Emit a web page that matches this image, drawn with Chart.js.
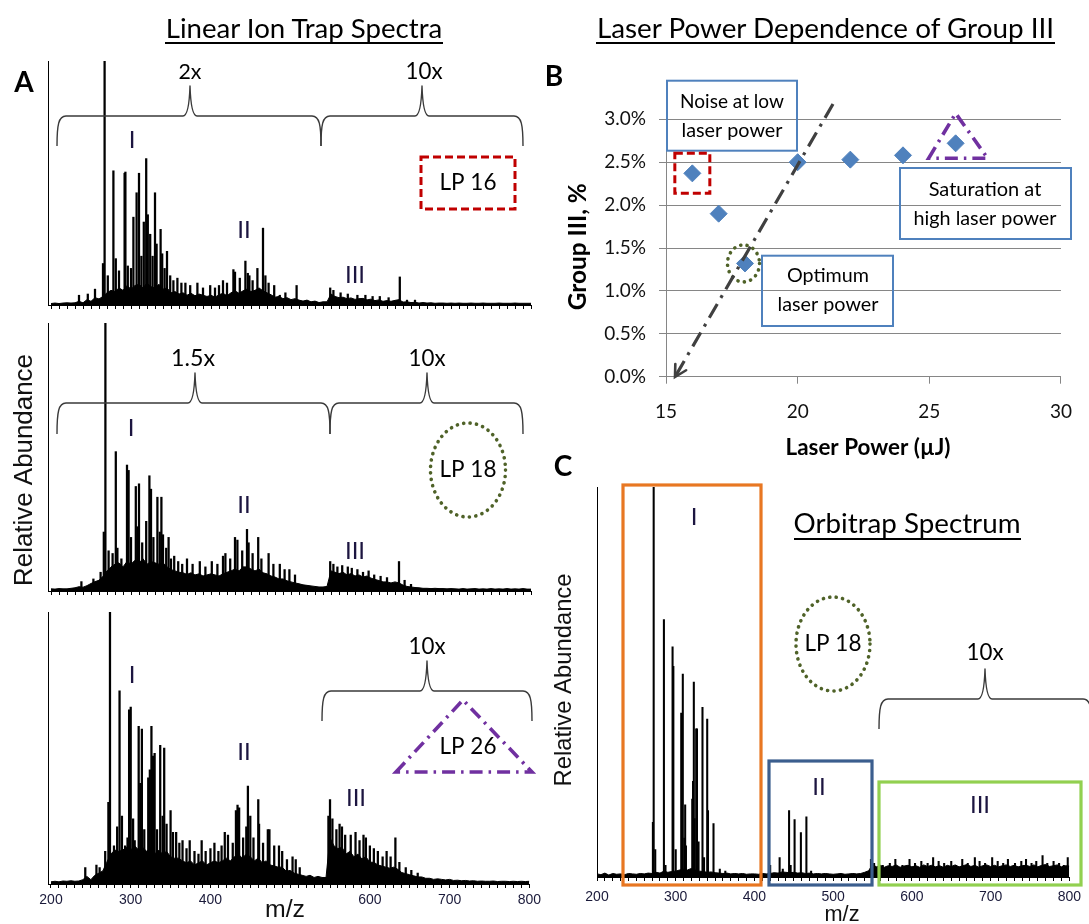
<!DOCTYPE html>
<html>
<head>
<meta charset="utf-8">
<script src="https://cdn.jsdelivr.net/npm/chart.js@4.4.1/dist/chart.umd.min.js"></script>
<style>
html,body{margin:0;padding:0;background:#fff;}
#wrap{position:relative;width:1089px;height:924px;overflow:hidden;background:#fff;}
#wrap canvas{position:absolute;}
</style>
</head>
<body>
<div id="wrap">
<canvas id="s1" width="545" height="275" style="left:0px;top:40px"></canvas>
<canvas id="s2" width="545" height="285" style="left:0px;top:315px"></canvas>
<canvas id="s3" width="545" height="324" style="left:0px;top:600px"></canvas>
<canvas id="pb" width="549" height="420" style="left:540px;top:55px"></canvas>
<canvas id="pc" width="539" height="454" style="left:550px;top:470px"></canvas>
</div>
<script>
// ---------------- DATA ----------------
const mzGrid = [
200,205,210,215,220,225,230,235,240,245,
250,255,260,265,270,275,280,285,290,295,
300,305,310,315,320,325,330,335,340,345,
350,355,360,365,370,375,380,385,390,395,
400,405,410,415,420,425,430,435,440,445,
450,455,460,465,470,475,480,485,490,495,
500,505,510,515,520,525,530,535,540,545,
550,555,560,565,570,575,580,585,590,595,
600,605,610,615,620,625,630,635,640,645,
650,655,660,665,670,675,680,685,690,695,
700,705,710,715,720,725,730,735,740,745,
750,755,760,765,770,775,780,785,790,795,
800];
const mzTickLabels = [200,300,400,500,600,700,800];

// Linear ion trap, LP 16 (relative abundance, as displayed)
const lp16Grass = [
0.006,0.008,0.006,0.008,0.009,0.008,0.009,0.015,0.009,0.022,
0.015,0.03,0.025,0.035,0.05,0.06,0.055,0.07,0.06,0.08,
0.065,0.08,0.085,0.07,0.09,0.075,0.07,0.085,0.065,0.07,
0.05,0.055,0.045,0.05,0.04,0.048,0.038,0.045,0.04,0.035,
0.04,0.032,0.042,0.048,0.038,0.05,0.058,0.048,0.058,0.065,
0.055,0.06,0.07,0.058,0.05,0.042,0.032,0.035,0.026,0.03,
0.022,0.026,0.02,0.016,0.02,0.013,0.016,0.01,0.013,0.013,
0.045,0.035,0.03,0.032,0.026,0.029,0.023,0.026,0.027,0.021,
0.024,0.018,0.021,0.015,0.018,0.015,0.019,0.022,0.012,0.013,
0.01,0.011,0.008,0.01,0.008,0.009,0.007,0.008,0.008,0.007,
0.008,0.007,0.008,0.007,0.007,0.008,0.007,0.007,0.008,0.007,
0.007,0.007,0.008,0.007,0.007,0.007,0.008,0.007,0.007,0.007,
0.007];
const lp16PeakMz = [235,246,255,265,267,271,278,281,285,292,293,296,300,303,307,310,313,316,319,321,324,327,330,332,337,339,342,345,349,353,358,363,368,374,383,390,399,405,410,415,420,428,430,436,443,446,448,452,458,465,468,472,479,486,493,507,549,553,562,571,583,593,602,611,622,636,645,655];
const lp16PeakInt = [0.04,0.045,0.065,0.17,1.0,0.12,0.55,0.19,0.14,0.54,0.545,0.16,0.15,0.36,0.46,0.54,0.2,0.34,0.6,0.37,0.29,0.2,0.46,0.25,0.31,0.21,0.15,0.22,0.12,0.1,0.11,0.09,0.09,0.08,0.09,0.07,0.08,0.07,0.08,0.1,0.09,0.145,0.135,0.11,0.18,0.13,0.12,0.1,0.15,0.315,0.12,0.09,0.08,0.04,0.05,0.08,0.07,0.06,0.05,0.045,0.04,0.04,0.035,0.035,0.03,0.115,0.02,0.02];

// Linear ion trap, LP 18
const lp18Grass = [
0.008,0.007,0.009,0.008,0.008,0.01,0.012,0.016,0.014,0.02,
0.028,0.035,0.04,0.055,0.075,0.09,0.1,0.105,0.09,0.11,
0.1,0.115,0.105,0.12,0.1,0.11,0.105,0.1,0.105,0.09,
0.08,0.075,0.07,0.068,0.062,0.068,0.06,0.064,0.056,0.06,
0.064,0.06,0.056,0.064,0.07,0.075,0.082,0.075,0.09,0.09,
0.082,0.075,0.082,0.068,0.064,0.056,0.052,0.045,0.045,0.038,
0.034,0.03,0.027,0.023,0.021,0.019,0.017,0.015,0.015,0.017,
0.075,0.07,0.065,0.07,0.06,0.065,0.056,0.06,0.052,0.056,
0.048,0.043,0.039,0.034,0.034,0.03,0.034,0.03,0.022,0.017,
0.015,0.013,0.012,0.01,0.01,0.009,0.01,0.009,0.009,0.008,
0.009,0.008,0.007,0.009,0.007,0.008,0.009,0.007,0.008,0.007,
0.009,0.007,0.008,0.007,0.009,0.007,0.008,0.007,0.009,0.007,
0.007];
const lp18PeakMz = [238,253,262,266,268,272,277,281,283,288,295,297,300,306,308,310,314,319,323,325,328,333,336,338,340,344,347,350,354,359,364,370,377,386,393,401,408,415,418,424,430,433,439,445,447,452,459,463,472,478,486,492,498,505,549,553,558,564,571,576,583,590,597,604,612,620,635,642,650];
const lp18PeakInt = [0.035,0.045,0.07,0.22,1.0,0.15,0.14,0.52,0.16,0.12,0.47,0.45,0.2,0.39,0.24,0.4,0.18,0.26,0.43,0.38,0.2,0.35,0.22,0.35,0.21,0.16,0.2,0.12,0.13,0.11,0.1,0.12,0.1,0.11,0.09,0.11,0.1,0.13,0.14,0.12,0.2,0.19,0.15,0.23,0.18,0.14,0.2,0.12,0.14,0.1,0.1,0.08,0.08,0.06,0.11,0.1,0.09,0.095,0.09,0.085,0.08,0.07,0.075,0.06,0.055,0.05,0.11,0.04,0.025];

// Linear ion trap, LP 26
const lp26Grass = [
0.008,0.01,0.008,0.011,0.01,0.012,0.01,0.011,0.016,0.028,
0.016,0.032,0.04,0.048,0.08,0.11,0.125,0.12,0.125,0.135,
0.125,0.14,0.125,0.135,0.12,0.135,0.11,0.125,0.11,0.12,
0.1,0.095,0.095,0.085,0.078,0.085,0.07,0.078,0.085,0.07,
0.078,0.085,0.078,0.085,0.095,0.085,0.1,0.11,0.095,0.11,
0.1,0.085,0.095,0.078,0.085,0.07,0.066,0.062,0.062,0.047,
0.05,0.04,0.036,0.032,0.028,0.032,0.024,0.028,0.024,0.024,
0.17,0.14,0.13,0.135,0.11,0.12,0.1,0.11,0.092,0.1,
0.08,0.08,0.07,0.066,0.062,0.058,0.062,0.054,0.042,0.038,
0.034,0.03,0.026,0.026,0.021,0.021,0.017,0.019,0.017,0.015,
0.017,0.013,0.014,0.012,0.013,0.011,0.012,0.01,0.011,0.01,
0.01,0.011,0.009,0.01,0.01,0.009,0.01,0.009,0.01,0.009,
0.01];
const lp26PeakMz = [243,257,261,268,272,274,279,283,286,289,293,296,298,300,303,305,310,312,314,317,322,324,326,328,330,333,337,340,342,345,350,353,357,361,365,370,374,380,385,389,394,400,405,410,414,418,422,428,432,434,436,441,445,447,450,454,460,461,466,472,474,480,486,490,496,503,507,512,548,550,553,558,562,565,569,576,582,587,592,595,600,605,610,616,621,626,632,637,645,652,660];
const lp26PeakInt = [0.06,0.07,0.06,0.12,0.3,1.0,0.14,0.21,0.71,0.25,0.14,0.17,0.64,0.65,0.24,0.16,0.58,0.37,0.57,0.2,0.39,0.42,0.58,0.47,0.48,0.2,0.51,0.25,0.5,0.22,0.27,0.19,0.19,0.15,0.16,0.13,0.16,0.12,0.11,0.16,0.12,0.13,0.15,0.12,0.14,0.19,0.18,0.15,0.27,0.29,0.28,0.17,0.21,0.36,0.25,0.17,0.31,0.22,0.15,0.2,0.2,0.14,0.14,0.12,0.09,0.1,0.09,0.06,0.25,0.31,0.24,0.2,0.22,0.21,0.18,0.18,0.19,0.16,0.18,0.17,0.14,0.13,0.12,0.1,0.12,0.1,0.17,0.08,0.06,0.05,0.04];

// Orbitrap, LP 18
const orbiGrass = [
0.008,0.006,0.01,0.005,0.009,0.007,0.008,0.006,0.009,0.008,
0.007,0.009,0.008,0.01,0.009,0.012,0.01,0.015,0.012,0.014,
0.015,0.018,0.02,0.018,0.022,0.018,0.015,0.014,0.012,0.013,
0.011,0.01,0.009,0.01,0.008,0.009,0.008,0.009,0.007,0.008,
0.008,0.007,0.009,0.008,0.009,0.011,0.01,0.013,0.012,0.011,
0.012,0.01,0.011,0.009,0.01,0.008,0.009,0.008,0.009,0.008,
0.007,0.008,0.009,0.007,0.008,0.009,0.008,0.009,0.012,0.016,
0.032,0.026,0.03,0.025,0.029,0.027,0.031,0.025,0.028,0.03,
0.026,0.029,0.025,0.031,0.027,0.03,0.026,0.029,0.025,0.03,
0.027,0.031,0.026,0.029,0.032,0.027,0.03,0.025,0.029,0.031,
0.027,0.03,0.026,0.029,0.031,0.027,0.03,0.026,0.029,0.03,
0.027,0.031,0.026,0.03,0.032,0.027,0.029,0.031,0.026,0.029,
0.028];
const orbiPeakMz = [271,272,274,285,287,296,297,300,307,308,309,311,312,313,321,322,323,324,326,327,329,334,336,340,341,348,356,363,420,432,436,444,446,451,459,466,472,548,552,563,572,579,588,597,604,612,620,627,634,641,650,656,664,671,680,686,693,702,709,716,722,731,739,745,752,758,766,772,780,787,793,798];
const orbiPeakInt = [0.14,1.0,0.07,0.66,0.03,0.59,0.54,0.07,0.42,0.3,0.52,0.1,0.185,0.08,0.2,0.245,0.5,0.15,0.38,0.38,0.09,0.435,0.05,0.405,0.17,0.137,0.02,0.015,0.03,0.05,0.02,0.17,0.03,0.147,0.114,0.154,0.015,0.045,0.035,0.03,0.035,0.045,0.03,0.045,0.035,0.04,0.035,0.05,0.04,0.035,0.04,0.03,0.045,0.035,0.05,0.04,0.035,0.05,0.04,0.035,0.045,0.035,0.04,0.045,0.035,0.04,0.055,0.035,0.04,0.035,0.03,0.05];

// Panel B: laser power dependence
const laserPower = [16,17,18,20,22,24,26];
const groupIIIPct = [2.37,1.90,1.32,2.50,2.53,2.58,2.72];

// ---------------- HELPERS ----------------
const FONT_UI = 'Lato, "Open Sans", sans-serif';
const FONT_AX = '"Liberation Sans", Arial, sans-serif';
Chart.defaults.font.family = FONT_UI;
const wrap = document.getElementById('wrap');
const measureCtx = document.createElement('canvas').getContext('2d');

function fitSize(txt, w, weight, fam) {
  measureCtx.font = weight + ' 100px ' + fam;
  return 100 * w / measureCtx.measureText(txt).width;
}
function txt(c, s, x, y, w, o) {
  o = o || {};
  const weight = o.weight || 'normal', fam = o.fam || FONT_UI;
  const size = o.size || fitSize(s, w, weight, fam);
  c.save();
  c.font = weight + ' ' + size.toFixed(2) + 'px ' + fam;
  c.fillStyle = o.color || '#000';
  c.textAlign = 'center';
  c.textBaseline = 'middle';
  c.translate(x, y);
  if (o.rot) c.rotate(o.rot);
  c.fillText(s, 0, 0);
  c.restore();
}
function roman(c, s, x, y) { txt(c, s, x, y, 0, {size: 24, color: '#1c1540'}); }
function brace(c, x0, x1, xc, yH, yEnd, yPeak) {
  c.save();
  c.strokeStyle = '#3a3a3a'; c.lineWidth = 1.4; c.lineJoin = 'round'; c.setLineDash([]);
  c.beginPath();
  c.moveTo(x0, yEnd);
  c.bezierCurveTo(x0, yH + 9, x0 + 1.5, yH, x0 + 9, yH);
  c.lineTo(xc - 7, yH);
  c.quadraticCurveTo(xc - 1, yH, xc, yPeak);
  c.quadraticCurveTo(xc + 1, yH, xc + 7, yH);
  c.lineTo(x1 - 9, yH);
  c.bezierCurveTo(x1 - 1.5, yH, x1, yH + 9, x1, yEnd);
  c.stroke();
  c.restore();
}
function dottedEllipse(c, cx, cy, rx, ry) {
  c.save();
  c.strokeStyle = '#4F6228'; c.lineWidth = 3.6; c.lineCap = 'round';
  c.setLineDash([0.1, 6.4]);
  c.beginPath(); c.ellipse(cx, cy, rx, ry, 0, 0, Math.PI * 2); c.stroke();
  c.restore();
}
function dashedRect(c, x0, y0, x1, y1) {
  c.save();
  c.strokeStyle = '#C00000'; c.lineWidth = 3; c.setLineDash([8, 4]);
  c.strokeRect(x0, y0, x1 - x0, y1 - y0);
  c.restore();
}
function dashDotTriangle(c, ax, ay, bx, by, cx2, cy2) {
  c.save();
  c.strokeStyle = '#7030A0'; c.lineWidth = 3.6; c.setLineDash([13, 6, 2.5, 6]);
  c.beginPath(); c.moveTo(bx, by); c.lineTo(ax, ay); c.lineTo(cx2, cy2); c.closePath(); c.stroke();
  c.restore();
}
function box(c, x0, y0, x1, y1, color, lw) {
  c.save(); c.strokeStyle = color; c.lineWidth = lw; c.setLineDash([]);
  c.strokeRect(x0, y0, x1 - x0, y1 - y0); c.restore();
}
function placeHtml(s, cx, cy, w, weight, fam, underlineY) {
  const size = fitSize(s, w, weight, fam);
  const d = document.createElement('div');
  d.textContent = s;
  d.style.cssText = 'position:absolute;left:' + cx + 'px;top:' + cy + 'px;transform:translate(-50%,-50%);' +
    'font:' + weight + ' ' + size.toFixed(2) + 'px ' + fam + ';line-height:1;white-space:nowrap;color:#000;';
  wrap.appendChild(d);
  if (underlineY) {
    const u = document.createElement('div');
    u.style.cssText = 'position:absolute;left:' + (cx - w / 2) + 'px;top:' + underlineY + 'px;width:' + w + 'px;height:1.6px;background:#000;';
    wrap.appendChild(u);
  }
}
function letter(s, cx, cy) {
  const d = document.createElement('div');
  d.textContent = s;
  d.style.cssText = 'position:absolute;left:' + cx + 'px;top:' + cy + 'px;transform:translate(-50%,-50%);font:bold 28px ' + FONT_UI + ';line-height:1;color:#000;';
  wrap.appendChild(d);
}

function spectrum(cfg) {
  const pts = cfg.peakMz.map((m, i) => ({x: m, y: cfg.peakInt[i]}));
  const grass = mzGrid.map((m, i) => ({x: m, y: cfg.grass[i]}));
  return new Chart(document.getElementById(cfg.id), {
    type: 'bar',
    data: {datasets: [
      {type: 'bar', data: pts, backgroundColor: '#000', borderWidth: 0, barThickness: cfg.bar || 1.6, grouped: false, order: 1},
      {type: 'line', data: grass, borderColor: '#000', backgroundColor: '#000', borderWidth: 1, pointRadius: 0, fill: 'origin', tension: 0, order: 2}
    ]},
    options: {
      responsive: false, animation: false, devicePixelRatio: 1, events: [],
      layout: {padding: {left: cfg.padL, top: cfg.padT, right: cfg.padR, bottom: 0}},
      plugins: {legend: {display: false}, tooltip: {enabled: false}},
      scales: {
        x: {type: 'linear', min: cfg.xMin, max: 800, offset: false,
          afterFit: s => { s.height = cfg.xh; },
          afterBuildTicks: s => {
            const t = [];
            for (let v = mzTickLabels[0]; v <= mzTickLabels[mzTickLabels.length - 1]; v += 10) t.push({value: v});
            s.ticks = t;
          },
          grid: {display: true, drawOnChartArea: false, drawTicks: true, tickLength: 4, color: '#000', lineWidth: 1, offset: false},
          border: {display: true, color: '#000', width: 1},
          ticks: {display: cfg.labels, autoSkip: false, maxRotation: 0, minRotation: 0, padding: cfg.tpad || 4,
            color: '#1a1a3a', font: {family: FONT_AX, size: 14},
            callback: v => {
              const r = Math.round(v);
              if (mzTickLabels.indexOf(r) < 0) return '';
              if (cfg.skip500 && r === 500) return '';
              return String(r);
            }}
        },
        y: {min: 0, max: 1, afterFit: s => { s.width = 0; },
          grid: {display: false, drawTicks: false}, ticks: {display: false},
          border: {display: true, color: '#000', width: 1}}
      }
    },
    plugins: [{id: 'ann_' + cfg.id, afterDraw(chart) {
      const c = chart.ctx; c.save(); c.translate(-cfg.ox, -cfg.oy); cfg.draw(c, chart); c.restore();
    }}]
  });
}

// ---------------- PANEL A ----------------
spectrum({id: 's1', ox: 0, oy: 40, xMin: 196.25, padL: 48, padT: 21, padR: 14, xh: 10, labels: false,
  grass: lp16Grass, peakMz: lp16PeakMz, peakInt: lp16PeakInt,
  draw: c => {
    brace(c, 57, 321, 190, 116, 146, 86);
    brace(c, 321, 523, 422, 116, 146, 86);
    txt(c, '2x', 190, 72, 23);
    txt(c, '10x', 424, 72, 37);
    roman(c, 'I', 132, 140); roman(c, 'II', 244, 230); roman(c, 'III', 355, 275);
    dashedRect(c, 421, 157, 515, 209);
    txt(c, 'LP 16', 468, 183, 57);
  }});

spectrum({id: 's2', ox: 0, oy: 315, xMin: 196.25, padL: 48, padT: 8, padR: 14, xh: 9, labels: false,
  grass: lp18Grass, peakMz: lp18PeakMz, peakInt: lp18PeakInt,
  draw: c => {
    brace(c, 57, 330, 195, 403, 434, 373);
    brace(c, 330, 523, 427, 403, 434, 373);
    txt(c, '1.5x', 193, 359, 44);
    txt(c, '10x', 427, 359, 37);
    roman(c, 'I', 131, 428); roman(c, 'II', 244, 505); roman(c, 'III', 355, 551);
    dottedEllipse(c, 468, 470, 37.5, 47);
    txt(c, 'LP 18', 468, 470, 57);
    txt(c, 'Relative Abundance', 25, 470, 232, {fam: FONT_AX, rot: -Math.PI / 2, color: '#111'});
  }});

spectrum({id: 's3', ox: 0, oy: 600, xMin: 196.25, padL: 48, padT: 12, padR: 14, xh: 40, labels: true, skip500: true, tpad: 4,
  grass: lp26Grass, peakMz: lp26PeakMz, peakInt: lp26PeakInt,
  draw: c => {
    brace(c, 322, 532, 427, 691, 721, 661);
    txt(c, '10x', 427, 647, 37);
    roman(c, 'I', 132, 675); roman(c, 'II', 244, 752); roman(c, 'III', 356, 798);
    dashDotTriangle(c, 463, 700, 396, 772, 532, 772);
    txt(c, 'LP 26', 468, 747, 57);
    txt(c, 'm/z', 285, 910, 40, {fam: FONT_AX, color: '#111'});
  }});

// ---------------- PANEL C ----------------
spectrum({id: 'pc', ox: 550, oy: 470, xMin: 200, padL: 47, padT: 17, padR: 12, xh: 47, labels: true, skip500: false, tpad: 8, bar: 1.4,
  grass: orbiGrass, peakMz: orbiPeakMz, peakInt: orbiPeakInt,
  draw: c => {
    box(c, 623, 485, 761, 885, '#E87722', 3.2);
    box(c, 769, 761, 872, 885, '#3B5E8E', 3.2);
    box(c, 879, 782, 1081, 885, '#92D050', 3.2);
    roman(c, 'I', 694, 517); roman(c, 'II', 819, 787); roman(c, 'III', 980, 805);
    dottedEllipse(c, 833, 644, 37, 47);
    txt(c, 'LP 18', 833, 644, 57);
    brace(c, 879, 1092, 985, 699, 729, 669);
    txt(c, '10x', 985, 653, 37);
    txt(c, 'm/z', 842, 915, 35, {fam: FONT_AX, color: '#111'});
    txt(c, 'Relative Abundance', 564, 680, 213, {fam: FONT_AX, rot: -Math.PI / 2, color: '#111'});
  }});

// ---------------- PANEL B ----------------
new Chart(document.getElementById('pb'), {
  type: 'scatter',
  data: {datasets: [{data: laserPower.map((x, i) => ({x: x, y: groupIIIPct[i]})),
    pointStyle: 'rectRot', pointRadius: 8.5, backgroundColor: '#4F81BD', borderColor: '#4F81BD', borderWidth: 1, showLine: false}]},
  options: {
    responsive: false, animation: false, devicePixelRatio: 1, events: [],
    layout: {padding: {left: 0, top: 64.3, right: 18.5, bottom: 0}},
    plugins: {legend: {display: false}, tooltip: {enabled: false}},
    scales: {
      x: {type: 'linear', min: 15, max: 30, afterFit: s => { s.height = 98.3; },
        grid: {drawOnChartArea: false, drawTicks: true, tickLength: 7, color: '#868686'},
        border: {display: true, color: '#868686', width: 1},
        ticks: {stepSize: 5, padding: 17, color: '#111', font: {family: FONT_UI, size: 19}}},
      y: {min: 0, max: 3, afterFit: s => { s.width = 126; },
        grid: {color: '#868686', drawTicks: true, tickLength: 7},
        border: {display: true, color: '#868686', width: 1},
        ticks: {stepSize: 0.5, padding: 13, color: '#111', font: {family: FONT_UI, size: 19},
          callback: v => v.toFixed(1) + '%'}}
    }
  },
  plugins: [{id: 'annB', afterDraw(chart) {
    const c = chart.ctx; c.save(); c.translate(-540, -55);
    const X = v => chart.scales.x.getPixelForValue(v) + 540;
    const Y = v => chart.scales.y.getPixelForValue(v) + 55;
    box(c, 667, 80.7, 797, 150.7, '#4F81BD', 2);
    txt(c, 'Noise at low', 732, 101.7, 104);
    txt(c, 'laser power', 732, 130.7, 101);
    box(c, 900, 168, 1071, 239, '#4F81BD', 2);
    txt(c, 'Saturation at', 985, 190, 112.7);
    txt(c, 'high laser power', 985, 218.3, 142.9);
    box(c, 762, 255.7, 893, 326, '#4F81BD', 2);
    txt(c, 'Optimum', 828, 276, 82);
    txt(c, 'laser power', 828, 305, 100.8);
    const p0x = X(laserPower[0]), p0y = Y(groupIIIPct[0]);
    dashedRect(c, p0x - 17.5, p0y - 20, p0x + 17.5, p0y + 20);
    dottedEllipse(c, X(laserPower[2]) - 1.5, Y(groupIIIPct[2]), 16, 18.5);
    const p6x = X(laserPower[6]), p6y = Y(groupIIIPct[6]);
    dashDotTriangle(c, p6x, p6y - 30, p6x - 27, p6y + 15, p6x + 32, p6y + 15);
    const sx = 833, sy = 104, ex = 675, ey = 377;
    c.strokeStyle = '#404040'; c.lineWidth = 3.2; c.setLineDash([16, 7, 3, 7]);
    c.beginPath(); c.moveTo(sx, sy); c.lineTo(ex, ey); c.stroke();
    c.setLineDash([]); c.lineWidth = 2.6; c.lineCap = 'round';
    const ang = Math.atan2(sy - ey, sx - ex);
    c.beginPath();
    c.moveTo(ex + 13 * Math.cos(ang + 0.5), ey + 13 * Math.sin(ang + 0.5));
    c.lineTo(ex, ey);
    c.lineTo(ex + 13 * Math.cos(ang - 0.5), ey + 13 * Math.sin(ang - 0.5));
    c.stroke();
    txt(c, 'Laser Power (\u00B5J)', 868, 448, 165, {weight: 'bold'});
    txt(c, 'Group III, %', 578.5, 246.7, 127, {weight: 'bold', rot: -Math.PI / 2});
    c.restore();
  }}]
});

// ---------------- PAGE TEXT ----------------
placeHtml('Linear Ion Trap Spectra', 304, 28, 278, 'normal', FONT_UI, 42);
placeHtml('Laser Power Dependence of Group III', 825.5, 28, 459, 'normal', FONT_UI, 42);
placeHtml('Orbitrap Spectrum', 907, 523, 227, 'normal', FONT_UI, 538);
letter('A', 24, 81);
letter('B', 554, 75);
letter('C', 563, 465);
</script>
</body>
</html>
